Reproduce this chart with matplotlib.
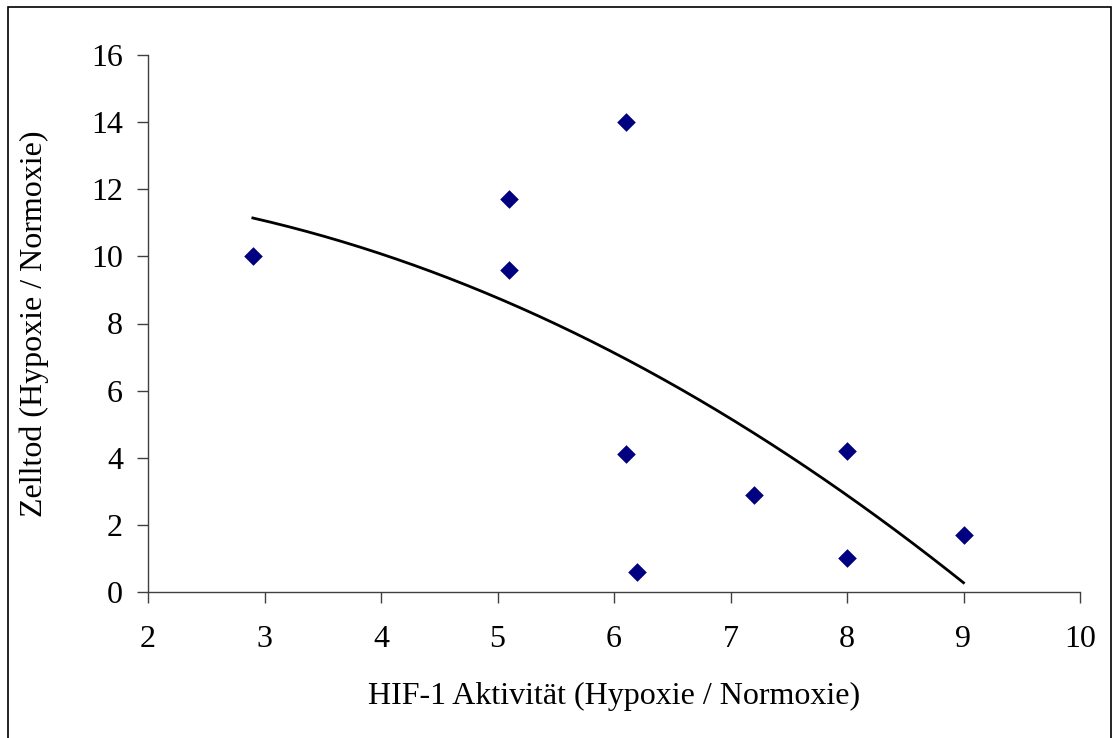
import numpy as np
import matplotlib
matplotlib.use("Agg")
import matplotlib.pyplot as plt
from matplotlib.patches import Rectangle

# HIF-1 activity vs. cell death, both as hypoxia / normoxia ratios
hif1_activity = [2.9, 5.1, 5.1, 6.1, 6.1, 6.2, 7.2, 8.0, 8.0, 9.0]
cell_death = [10.0, 11.7, 9.6, 14.0, 4.1, 0.6, 2.9, 4.2, 1.0, 1.7]

x_ticks = [2, 3, 4, 5, 6, 7, 8, 9, 10]
y_ticks = [0, 2, 4, 6, 8, 10, 12, 14, 16]

plt.rcParams["font.family"] = ["Liberation Serif", "DejaVu Serif"]
plt.rcParams["font.size"] = 23

fig = plt.figure(figsize=(11.14, 7.38), dpi=100)
ax = fig.add_axes([148 / 1114, 1 - 592 / 738, (1080 - 148) / 1114, (592 - 55) / 738])

# outer chart frame
fig.patches.append(Rectangle((8 / 1114, -0.01), (1111 - 8) / 1114, 1 - 7 / 738 + 0.01,
                             transform=fig.transFigure, fill=False,
                             edgecolor="black", linewidth=1.2))

ax.scatter(hif1_activity, cell_death, marker="D", s=90, color="#000080",
           zorder=3, linewidths=0)

# second-order polynomial trend line
coef = np.polyfit(hif1_activity, cell_death, 2)
xs = np.linspace(min(hif1_activity), max(hif1_activity), 200)
ax.plot(xs, np.polyval(coef, xs), color="black", linewidth=2.0, zorder=2)

ax.set_xlim(2, 10)
ax.set_ylim(0, 16)
ax.set_xticks(x_ticks)
ax.set_yticks(y_ticks)
ax.tick_params(direction="out", length=8, width=1, color="#404040", pad=10)
ax.tick_params(axis="x", pad=16)
for side in ("top", "right"):
    ax.spines[side].set_visible(False)
for side in ("left", "bottom"):
    ax.spines[side].set_color("#404040")
    ax.spines[side].set_linewidth(1)

ax.set_xlabel("HIF-1 Aktivität (Hypoxie / Normoxie)", labelpad=20)
ax.set_ylabel("Zelltod (Hypoxie / Normoxie)", labelpad=30)

fig.savefig("out.png", dpi=100)
